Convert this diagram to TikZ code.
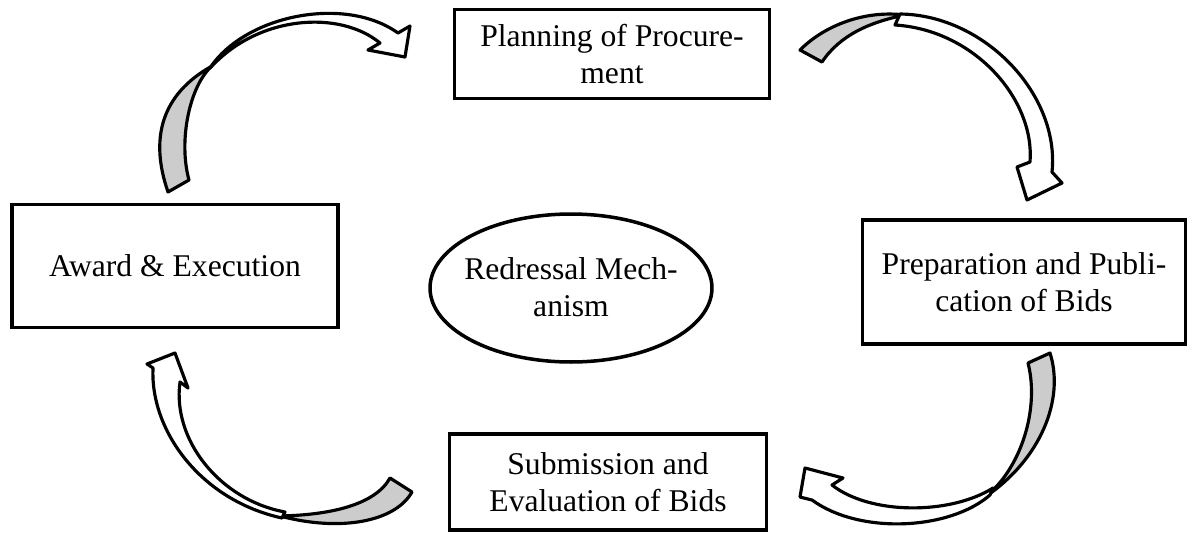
\documentclass[tikz,border=0pt]{standalone}
\usepackage{fontspec}
\setmainfont{Liberation Serif}
\usetikzlibrary{shapes.geometric}

\begin{document}
\begin{tikzpicture}[x=0.02cm,y=-0.02cm,
  stage/.style={draw,line width=2.2pt,align=center,inner sep=0pt,
    font=\fontsize{18}{21}\selectfont},
  hub/.style={align=center,inner sep=0pt,font=\fontsize{18}{21}\selectfont},
  ribbon/.style={draw,line width=1.8pt,line join=round}]
\useasboundingbox (0,0) rectangle (1200,535);

\node[stage,minimum width=6.3cm,minimum height=1.78cm] (plan) at (612,54) {Planning of Procure-\\ment};
\node[stage,minimum width=6.46cm,minimum height=2.48cm] (prep) at (1024,282) {Preparation and Publi-\\cation of Bids};
\node[stage,minimum width=6.34cm,minimum height=1.92cm] (submit) at (608,482) {Submission and\\Evaluation of Bids};
\node[stage,minimum width=6.52cm,minimum height=2.46cm] (award) at (175,266) {Award \& Execution};
\node[hub] (redress) at (571,287) {Redressal Mech-\\anism};
\draw[line width=2pt] (571,288) ellipse [x radius=2.82cm,y radius=1.48cm];

\draw[ribbon,fill=gray!40] (168,192) .. controls (150,140) and (160,95) .. (212,66)
  .. controls (190,85) and (178,140) .. (189,180) -- cycle;
\draw[ribbon,fill=white] (210,68) .. controls (245,15) and (345,-5) .. (398,33)
  -- (410,26) -- (405,57) -- (368,50) -- (380,43)
  .. controls (340,10) and (260,15) .. (212,66) -- cycle;

\draw[ribbon,fill=gray!40] (800,50) .. controls (825,25) and (865,10) .. (905,15)
  .. controls (870,22) and (840,35) .. (822,62) -- cycle;
\draw[ribbon,fill=white] (900,14) .. controls (985,15) and (1060,95) .. (1052,172)
  -- (1062,183) -- (1027,200) -- (1017,167) -- (1030,162)
  .. controls (1035,100) and (975,30) .. (895,25) -- cycle;

\draw[ribbon,fill=gray!40] (1050,353) .. controls (1065,400) and (1040,460) .. (985,497)
  .. controls (1020,470) and (1040,410) .. (1028,363) -- cycle;
\draw[ribbon,fill=white] (990,495) .. controls (950,530) and (860,535) .. (812,500)
  -- (800,497) -- (805,468) -- (843,478) -- (832,485)
  .. controls (870,515) and (950,515) .. (993,488) -- cycle;

\draw[ribbon,fill=gray!40] (412,492) .. controls (395,522) and (340,532) .. (280,516)
  .. controls (330,515) and (375,505) .. (390,478) -- cycle;
\draw[ribbon,fill=white] (282,518) .. controls (200,500) and (150,430) .. (153,368)
  -- (147,364) -- (175,353) -- (188,388) -- (180,382)
  .. controls (172,440) and (220,500) .. (285,512) -- cycle;
\end{tikzpicture}
\end{document}
